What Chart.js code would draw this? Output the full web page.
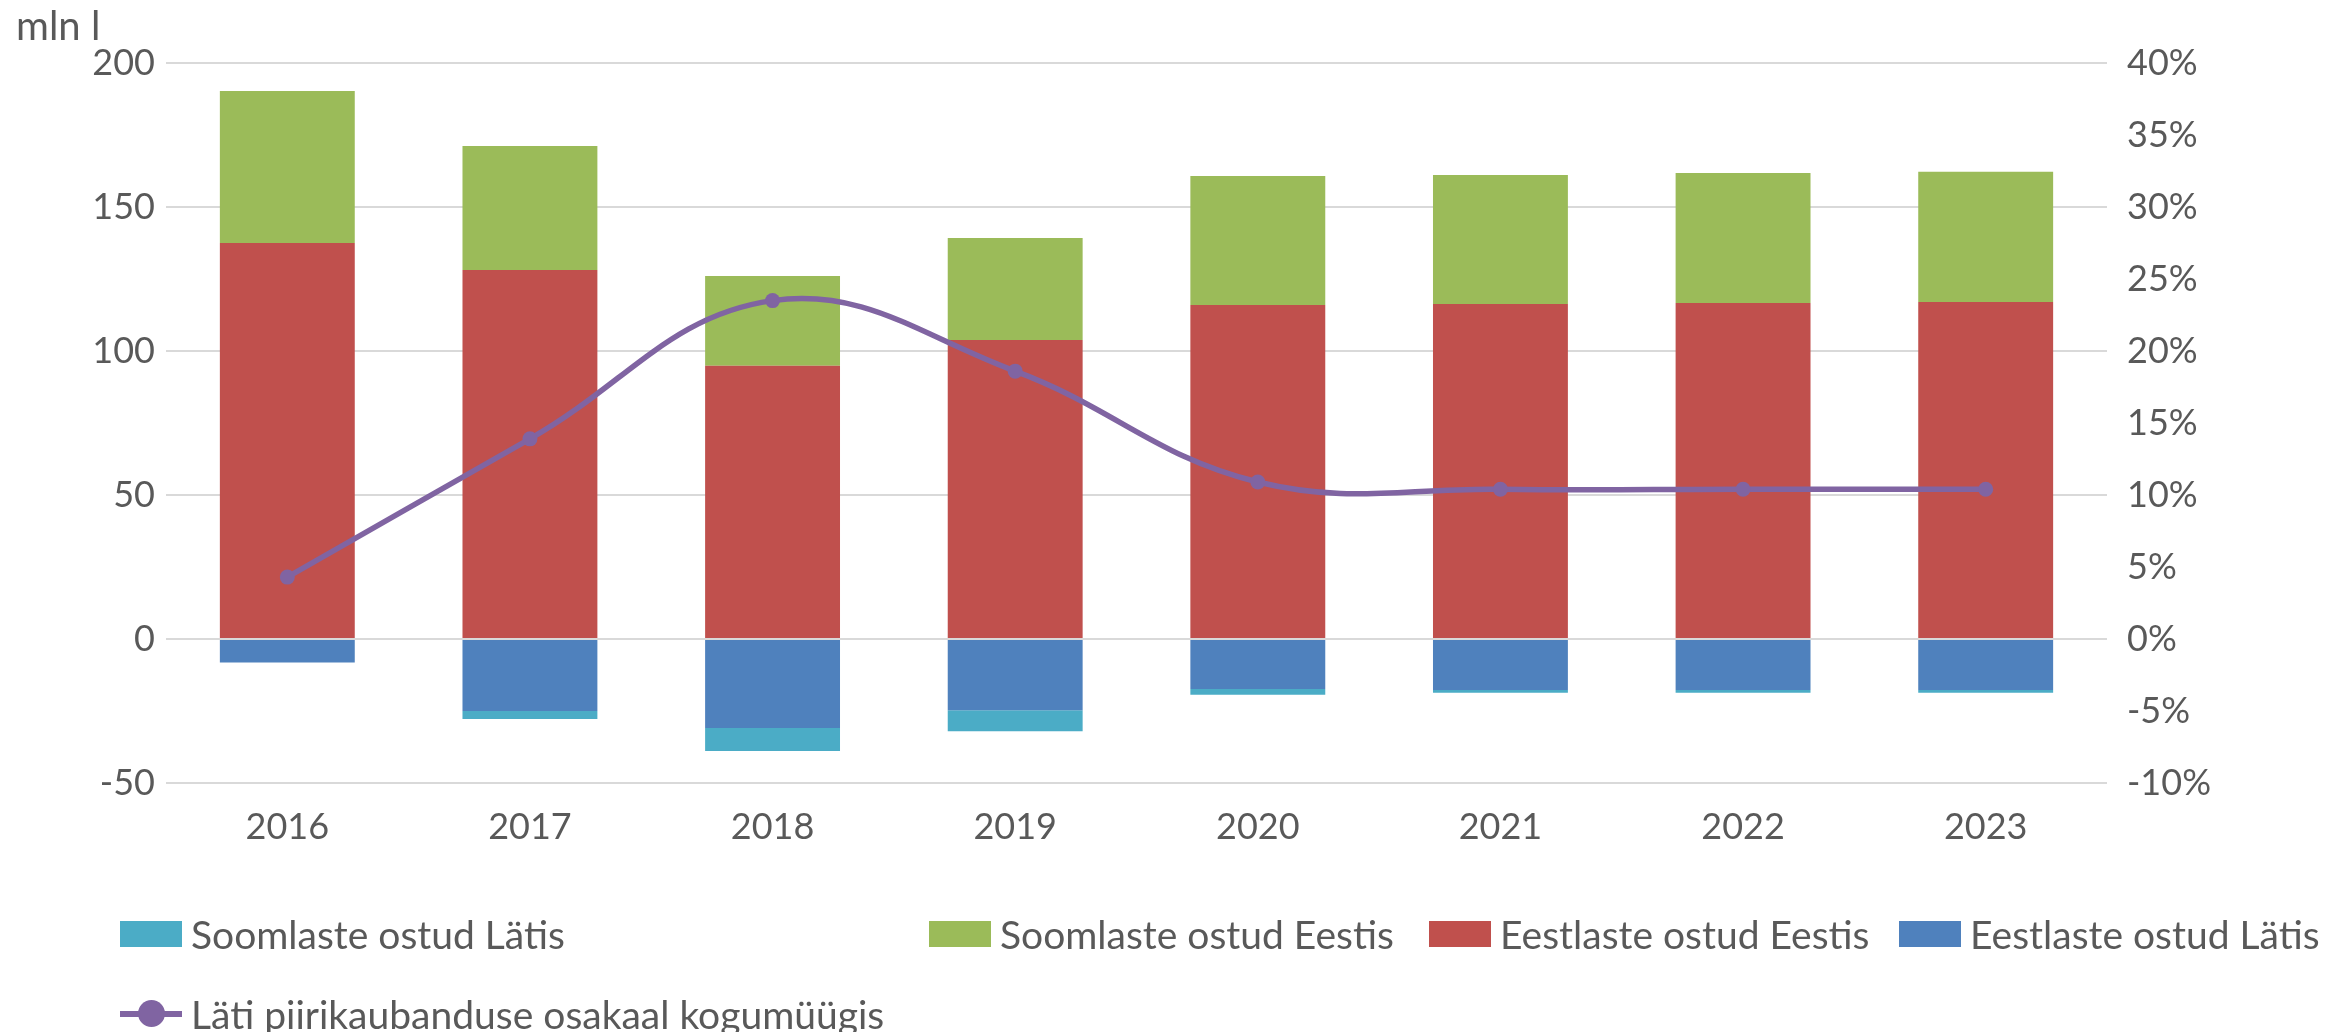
<!DOCTYPE html>
<html>
<head>
<meta charset="utf-8">
<script src="https://cdn.jsdelivr.net/npm/chart.js@4/dist/chart.umd.min.js"></script>
<style>
    body { margin: 0; background: #fff; }
    #wrap { position: relative; width: 2339px; height: 1032px; font-family: Lato, sans-serif; color: #595959; }
    #unit { position: absolute; left: 16px; top: 1px; font-size: 40px; }
    .item { position: absolute; height: 44px; line-height: 44px; font-size: 39px; white-space: nowrap; }
    .item .box { position: absolute; left: 0; top: 9px; width: 62px; height: 26px; }
    .item .txt { position: absolute; left: 71px; top: 0; }
    .item .ln { position: absolute; left: 0; top: 19px; width: 62px; height: 6px; }
    .item .dot { position: absolute; left: 18px; top: 8px; width: 27px; height: 27px; border-radius: 50%; }
</style>
</head>
<body>
<div id="wrap">
    <canvas id="c" width="2339" height="1032"></canvas>
    <div id="unit">mln l</div>
    <div id="legend"></div>
</div>
<script>
const years = ['2016', '2017', '2018', '2019', '2020', '2021', '2022', '2023']

const eestlasteEestis = [137.5, 128.1, 94.9, 103.8, 116.0, 116.3, 116.7, 117.0]
const soomlasteEestis = [52.8, 43.1, 31.1, 35.4, 44.8, 44.8, 45.1, 45.2]
const eestlasteLatis = [-8.2, -25.0, -30.9, -24.7, -17.4, -17.7, -17.7, -17.7]
const soomlasteLatis = [0, -2.8, -8.0, -7.3, -2.0, -1.0, -1.0, -1.0]
const latiOsakaal = [4.3, 13.9, 23.5, 18.6, 10.9, 10.4, 10.4, 10.4]

const leftTicks = { min: -50, max: 200, step: 50 }
const rightTicks = { min: -10, max: 40, step: 5 }

const TEXT = '#595959'
const GRID = '#D9D9D9'
const FONT = { family: 'Lato', size: 36 }

// legend slots (left x, center y) in reading order
const LEGEND_SLOTS = [
    { label: 'Soomlaste ostud Lätis', x: 120, y: 934 },
    { label: 'Soomlaste ostud Eestis', x: 929, y: 934 },
    { label: 'Eestlaste ostud Eestis', x: 1429, y: 934 },
    { label: 'Eestlaste ostud Lätis', x: 1899, y: 934 },
    { label: 'Läti piirikaubanduse osakaal kogumüügis', x: 120, y: 1014 }
]

const bar = (label, data, color) => ({
    type: 'bar',
    label: label,
    data: data,
    backgroundColor: color,
    borderWidth: 0,
    yAxisID: 'y',
    categoryPercentage: 1,
    barPercentage: 0.556
})

const chart = new Chart(document.getElementById('c'), {
    data: {
        labels: years,
        datasets: [
            {
                type: 'line',
                label: 'Läti piirikaubanduse osakaal kogumüügis',
                data: latiOsakaal,
                yAxisID: 'y1',
                borderColor: '#8064A2',
                backgroundColor: '#8064A2',
                borderWidth: 5.5,
                pointRadius: 7.5,
                pointBorderWidth: 0,
                tension: 0.4
            },
            bar('Eestlaste ostud Eestis', eestlasteEestis, '#C0504D'),
            bar('Soomlaste ostud Eestis', soomlasteEestis, '#9BBB59'),
            bar('Eestlaste ostud Lätis', eestlasteLatis, '#4F81BD'),
            bar('Soomlaste ostud Lätis', soomlasteLatis, '#4BACC6')
        ]
    },
    options: {
        responsive: false,
        animation: false,
        devicePixelRatio: 1,
        layout: { padding: { left: 0, right: 0, top: 63, bottom: 189 } },
        plugins: { legend: { display: false }, tooltip: { enabled: false } },
        scales: {
            x: {
                stacked: true,
                grid: { display: false },
                border: { display: false },
                ticks: { color: TEXT, font: FONT, padding: 15, maxRotation: 0 },
                afterFit: s => { s.height = 60 }
            },
            y: {
                stacked: true,
                position: 'left',
                min: leftTicks.min,
                max: leftTicks.max,
                grid: { color: GRID, lineWidth: 2, drawTicks: false },
                border: { display: false },
                ticks: { stepSize: leftTicks.step, color: TEXT, font: FONT, padding: 11 },
                afterFit: s => { s.width = 166 }
            },
            y1: {
                position: 'right',
                min: rightTicks.min,
                max: rightTicks.max,
                grid: { display: false, drawTicks: false },
                border: { display: false },
                ticks: { stepSize: rightTicks.step, color: TEXT, font: FONT, padding: 20, callback: v => v + '%' },
                afterFit: s => { s.width = 232 }
            }
        }
    }
})

// html legend built from the chart datasets
const legend = document.getElementById('legend')
LEGEND_SLOTS.forEach(slot => {
    const ds = chart.data.datasets.find(d => d.label === slot.label)
    const item = document.createElement('div')
    item.className = 'item'
    item.style.left = slot.x + 'px'
    item.style.top = (slot.y - 22) + 'px'
    if (ds.type === 'line') {
        item.innerHTML = '<span class="ln"></span><span class="dot"></span>'
        item.querySelector('.ln').style.background = ds.borderColor
        item.querySelector('.dot').style.background = ds.borderColor
    } else {
        item.innerHTML = '<span class="box"></span>'
        item.querySelector('.box').style.background = ds.backgroundColor
    }
    const txt = document.createElement('span')
    txt.className = 'txt'
    txt.textContent = ds.label
    item.appendChild(txt)
    legend.appendChild(item)
})
</script>
</body>
</html>
